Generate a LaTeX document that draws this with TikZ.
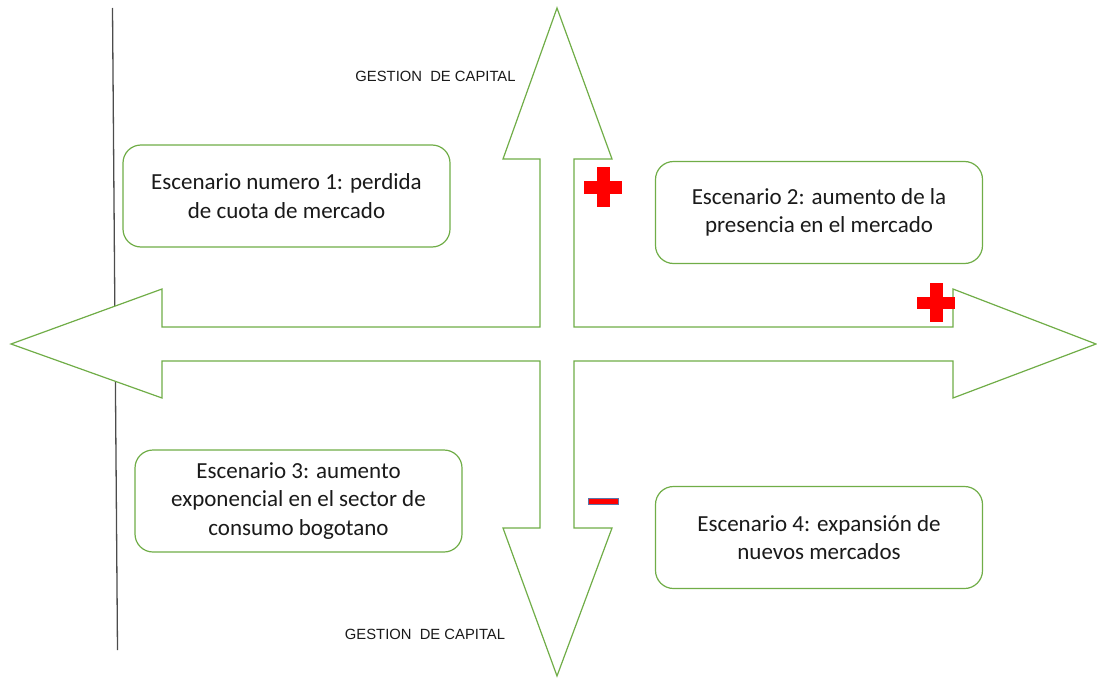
\documentclass[tikz,border=0pt]{standalone}
\usepackage{fontspec}
\setmainfont{Carlito}
\newfontfamily\arialf{Liberation Sans}
\definecolor{grn}{HTML}{70AD47}
\definecolor{redc}{HTML}{FF0000}
\definecolor{minusb}{HTML}{5B74A8}
\definecolor{txt}{HTML}{1A1A1A}
\begin{document}
\begin{tikzpicture}[x=1pt,y=-1pt,
  scenbox/.style={draw=grn,line width=1.2pt,rounded corners=18pt,fill=white,
    minimum width=327pt,minimum height=102pt,align=center,text=txt,
    font=\fontsize{23}{28.5}\selectfont,inner sep=0pt},
  axislabel/.style={font=\arialf\fontsize{14.8}{17}\selectfont,text=txt,inner sep=0pt},
  plusfill/.style={fill=redc,draw=none}]
\useasboundingbox (0,0) rectangle (1097,677);
% left vertical line
\coordinate (lt) at (112.5,8);
\coordinate (lb) at (117.5,650);
\draw[line width=1.3pt,color=black!70] (lt) -- (lb);
% four-way arrow
\draw[draw=grn,line width=1.2pt,fill=white,line join=miter]
  (557,8) -- (612,159) -- (574,159) -- (574,327) -- (953,327) -- (953,289)
  -- (1096,344) -- (953,398) -- (953,361) -- (574,361) -- (574,528) -- (612,528)
  -- (557,676) -- (503,528) -- (540,528) -- (540,361) -- (162,361) -- (162,398)
  -- (11,344) -- (162,289) -- (162,327) -- (540,327) -- (540,159) -- (503,159) -- cycle;
% boxes
\node[scenbox] (s1) at (286.5,196) {Escenario numero 1: perdida\\de cuota de mercado};
\node[scenbox] (s2) at (819,212.5) {Escenario 2: aumento de la\\presencia en el mercado};
\node[scenbox] (s3) at (298.5,501) {Escenario 3: aumento\\exponencial en el sector de\\consumo bogotano};
\node[scenbox] (s4) at (819,537.5) {Escenario 4: expansión de\\nuevos mercados};
% axis labels
\node[axislabel] (gtop) at (435.5,76) {GESTION\ \ DE CAPITAL};
\node[axislabel] (gbot) at (425,634) {GESTION\ \ DE CAPITAL};
% plus signs
\node[inner sep=0pt,minimum size=0pt] (p1) at (603,187) {};
\fill[plusfill] (596.5,167) rectangle (609.5,207);
\fill[plusfill] (584,181) rectangle (622,193.5);
\node[inner sep=0pt,minimum size=0pt] (p2) at (936,302.5) {};
\fill[plusfill] (930,283) rectangle (942.5,322);
\fill[plusfill] (917,296.5) rectangle (955,309);
% minus sign
\node[draw=minusb,fill=redc,line width=0.8pt,minimum width=30pt,minimum height=6pt,inner sep=0pt] (m1) at (603.5,501.5) {};
\end{tikzpicture}
\end{document}
